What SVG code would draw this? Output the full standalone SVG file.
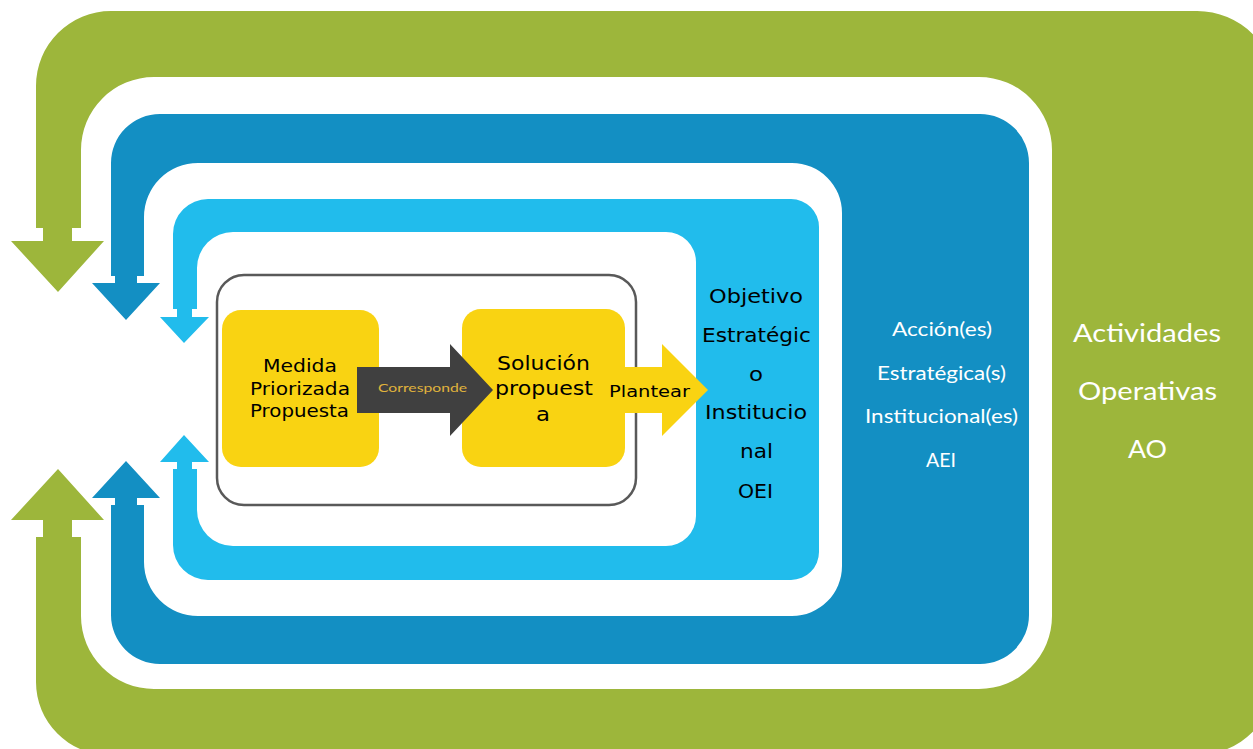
<svg xmlns="http://www.w3.org/2000/svg" width="1253" height="749" viewBox="0 0 1253 749">
<style>
.g{fill:#9db63b}
.db{fill:#138fc3}
.lb{fill:#21bcec}
.y{fill:#f9d312}
.v{font-family:"DejaVu Sans","Verdana",sans-serif;fill:#000}
.c{font-family:"Lato","Open Sans",sans-serif;fill:#fff}
</style>
<rect width="1253" height="749" fill="#fff"/>
<g id="ao-frame">
<path class="g" fill-rule="evenodd" d="M36 228 L36 86 A75 75 0 0 1 111 11 L1197 11 A79 79 0 0 1 1276 90 L1276 676 A79 79 0 0 1 1197 755 L109 755 A73 73 0 0 1 36 682 L36 537 L43 537 L43 520 L11 520 L58 469 L104 520 L72 520 L72 537 L81 537 L81 616 A73 73 0 0 0 154 689 L979 689 A73 73 0 0 0 1052 616 L1052 150 A73 73 0 0 0 979 77 L154 77 A73 73 0 0 0 81 150 L81 228 L72 228 L72 241 L104 241 L58 292 L11 241 L43 241 L43 228 Z"/>
<text class="c" font-size="25" x="1073" y="342" textLength="148" lengthAdjust="spacingAndGlyphs">Actividades</text>
<text class="c" font-size="25" x="1078" y="400" textLength="139" lengthAdjust="spacingAndGlyphs">Operativas</text>
<text class="c" font-size="25" x="1128" y="458" textLength="39" lengthAdjust="spacingAndGlyphs">AO</text>
</g>
<g id="aei-frame">
<path class="db" fill-rule="evenodd" d="M111 276 L111 163 A49 49 0 0 1 160 114 L980 114 A49 49 0 0 1 1029 163 L1029 615 A49 49 0 0 1 980 664 L160 664 A49 49 0 0 1 111 615 L111 505 L115 505 L115 498 L92 498 L126 461 L160 498 L137 498 L137 505 L144 505 L144 562 A54 54 0 0 0 198 616 L792 616 A50 50 0 0 0 842 566 L842 213 A50 50 0 0 0 792 163 L198 163 A54 54 0 0 0 144 217 L144 276 L137 276 L137 283 L160 283 L126 320 L92 283 L115 283 L115 276 Z"/>
<text class="c" font-size="18.5" x="892" y="336" textLength="100" lengthAdjust="spacingAndGlyphs">Acción(es)</text>
<text class="c" font-size="18.5" x="877" y="380" textLength="129" lengthAdjust="spacingAndGlyphs">Estratégica(s)</text>
<text class="c" font-size="18.5" x="865" y="423" textLength="153" lengthAdjust="spacingAndGlyphs">Institucional(es)</text>
<text class="c" font-size="18.5" x="926" y="467" textLength="30" lengthAdjust="spacingAndGlyphs">AEI</text>
</g>
<g id="oei-frame">
<path class="lb" fill-rule="evenodd" d="M173 309 L173 234 A35 35 0 0 1 208 199 L791 199 A28 28 0 0 1 819 227 L819 552 A28 28 0 0 1 791 580 L208 580 A35 35 0 0 1 173 545 L173 469 L177 469 L177 462 L160 462 L184 435 L209 462 L192 462 L192 469 L197 469 L197 510 A36 36 0 0 0 233 546 L666 546 A30 30 0 0 0 696 516 L696 262 A30 30 0 0 0 666 232 L233 232 A36 36 0 0 0 197 268 L197 309 L192 309 L192 317 L209 317 L184 343 L160 317 L177 317 L177 309 Z"/>
<text class="v" font-size="19" x="709" y="303" textLength="94" lengthAdjust="spacingAndGlyphs">Objetivo</text>
<text class="v" font-size="19" x="702" y="342" textLength="109" lengthAdjust="spacingAndGlyphs">Estratégic</text>
<text class="v" font-size="19" x="749" y="381" textLength="14" lengthAdjust="spacingAndGlyphs">o</text>
<text class="v" font-size="19" x="705" y="419" textLength="102" lengthAdjust="spacingAndGlyphs">Institucio</text>
<text class="v" font-size="19" x="740" y="458" textLength="33" lengthAdjust="spacingAndGlyphs">nal</text>
<text class="v" font-size="19" x="738" y="498" textLength="35" lengthAdjust="spacingAndGlyphs">OEI</text>
</g>
<g id="container">
<rect x="217" y="275" width="419" height="230" rx="27" fill="none" stroke="#595959" stroke-width="2.5"/>
</g>
<g id="medida">
<rect class="y" x="222" y="310" width="157" height="157" rx="19"/>
<text class="v" font-size="17" x="263" y="372" textLength="74" lengthAdjust="spacingAndGlyphs">Medida</text>
<text class="v" font-size="17" x="250" y="395" textLength="100" lengthAdjust="spacingAndGlyphs">Priorizada</text>
<text class="v" font-size="17" x="250" y="417" textLength="99" lengthAdjust="spacingAndGlyphs">Propuesta</text>
</g>
<g id="solucion">
<rect class="y" x="462" y="309" width="163" height="158" rx="19"/>
</g>
<g id="connectors">
<polygon fill="#404040" points="357,367 450,367 450,344 493,390 450,436 450,413 357,413"/>
<text font-family="Lato,'Open Sans',sans-serif" font-size="12" fill="#e0b43c" x="378" y="392" textLength="89" lengthAdjust="spacingAndGlyphs">Corresponde</text>
<polygon class="y" points="620,367 662,367 662,344 708,390 662,436 662,413 620,413"/>
<text class="v" font-size="16.5" x="609" y="397" textLength="81" lengthAdjust="spacingAndGlyphs">Plantear</text>
</g>
<g id="solucion-label">
<text class="v" font-size="19" x="497" y="370" textLength="93" lengthAdjust="spacingAndGlyphs">Solución</text>
<text class="v" font-size="19" x="495" y="395" textLength="98" lengthAdjust="spacingAndGlyphs">propuest</text>
<text class="v" font-size="19" x="536" y="421" textLength="14" lengthAdjust="spacingAndGlyphs">a</text>
</g>
</svg>
